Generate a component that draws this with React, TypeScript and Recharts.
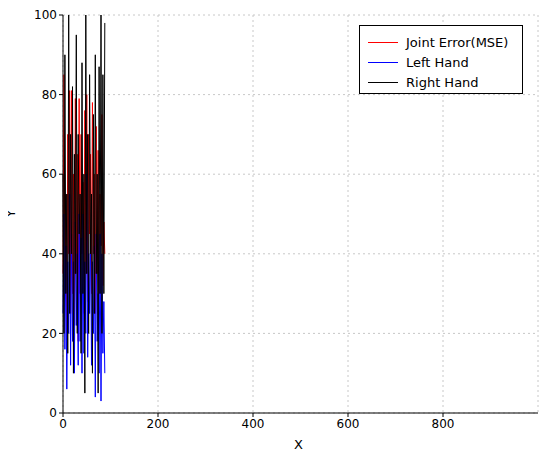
import { LineChart, Line, XAxis, YAxis, CartesianGrid } from 'recharts';

const xs = [0, 2, 4, 6, 8, 10, 12, 14, 16, 18, 20, 22, 24, 26, 28, 30, 32, 34, 36, 38, 40, 42, 44, 46, 48, 50, 52, 54, 56, 58, 60, 62, 64, 66, 68, 70, 72, 74, 76, 78, 80, 82, 84, 86, 88];
const jointError = [35, 85, 30, 55, 20, 70, 40, 81, 25, 81, 30, 60, 22, 79, 35, 65, 18, 79, 30, 70, 40, 58, 25, 76, 35, 80, 28, 70, 45, 65, 30, 78, 40, 60, 25, 72, 35, 66, 30, 55, 42, 75, 32, 48, 40];
const leftHand = [25, 50, 16, 42, 6, 38, 20, 55, 12, 45, 18, 38, 10, 48, 22, 40, 12, 50, 18, 44, 10, 50, 15, 38, 20, 60, 14, 40, 25, 45, 12, 38, 20, 42, 4, 45, 18, 30, 10, 45, 3, 40, 15, 28, 10];
const rightHand = [60, 20, 90, 30, 55, 15, 100, 25, 70, 40, 82, 10, 65, 35, 95, 20, 70, 45, 55, 15, 88, 30, 60, 5, 100, 35, 70, 20, 85, 40, 55, 10, 75, 25, 90, 35, 60, 5, 87, 30, 100, 20, 85, 30, 98];

const data = xs.map((x, i) => ({ x, joint: jointError[i], left: leftHand[i], right: rightHand[i] }));
const xTicks = [0, 200, 400, 600, 800];
const yTicks = [0, 20, 40, 60, 80, 100];

const font = '"DejaVu Sans", sans-serif';

export default function App() {
  return (
    <div style={{ margin: -8, position: 'relative', width: 551, height: 461, background: '#fff', fontFamily: font }}>
      <LineChart width={551} height={461} data={data} margin={{ top: 15, right: 13, left: 0, bottom: 18 }}>
        <CartesianGrid stroke="#c8c8c8" strokeDasharray="2 3" />
        <XAxis dataKey="x" type="number" domain={[0, 1000]} ticks={xTicks} height={30} stroke="#000"
          tick={{ fill: '#000', fontSize: 12, fontFamily: font }} tickSize={4} />
        <YAxis type="number" domain={[0, 100]} ticks={yTicks} width={63} stroke="#000"
          tick={{ fill: '#000', fontSize: 12, fontFamily: font }} tickSize={4} />
        <Line dataKey="joint" stroke="#ff0000" strokeWidth={1} dot={false} isAnimationActive={false} />
        <Line dataKey="left" stroke="#0000ff" strokeWidth={1} dot={false} isAnimationActive={false} />
        <Line dataKey="right" stroke="#000000" strokeWidth={1} dot={false} isAnimationActive={false} />
      </LineChart>
      <div style={{ position: 'absolute', left: 294, top: 437, fontSize: 13 }}>X</div>
      <div style={{ position: 'absolute', left: 7, top: 206, fontSize: 13, transform: 'rotate(-90deg)' }}>Y</div>
      <div style={{ position: 'absolute', left: 359, top: 25, width: 164, height: 69, border: '1px solid #000', background: '#fff', fontSize: 13, color: '#000', boxSizing: 'border-box', paddingTop: 6 }}>
        {[['Joint Error(MSE)', '#ff0000'], ['Left Hand', '#0000ff'], ['Right Hand', '#000000']].map(([n, c]) => (
          <div key={n} style={{ display: 'flex', alignItems: 'center', height: 20, marginLeft: 8 }}>
            <span style={{ width: 30, height: 1, background: c, display: 'inline-block', marginRight: 8 }} />
            {n}
          </div>
        ))}
      </div>
    </div>
  );
}
